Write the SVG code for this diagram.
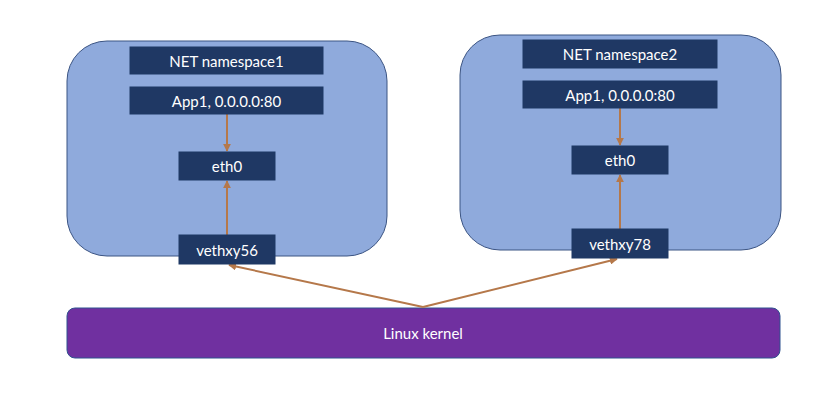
<svg xmlns="http://www.w3.org/2000/svg" width="839" height="404" viewBox="0 0 839 404">
<defs>
<style>
.ns{fill:#8FAADC;stroke:#3B5483;stroke-width:1}
.box{fill:#1F3864;stroke:#1F3864}
.t{font-family:Lato,"Open Sans",sans-serif;font-size:15px;fill:#FFFFFF;text-anchor:middle;dominant-baseline:central}
.c{stroke:#B5784A;stroke-width:2;fill:none;marker-end:url(#ah)}
</style>
<marker id="ah" viewBox="0 0 10 10" refX="9" refY="5" markerWidth="4" markerHeight="4" orient="auto">
<path d="M0,0 L10,5 L0,10 z" fill="#B5784A"/>
</marker>
</defs>
<rect width="839" height="404" fill="#FFFFFF"/>
<g id="ns1">
<rect class="ns" x="67" y="41" width="320" height="215" rx="40"/>
</g>
<g id="ns2">
<rect class="ns" x="460" y="35" width="321" height="215" rx="40"/>
</g>
<g id="kernel">
<rect x="67" y="308" width="713" height="50" rx="8" fill="#7030A0" stroke="#2F528F"/>
<text class="t" x="423" y="333">Linux kernel</text>
</g>
<g id="connectors">
<line class="c" x1="227" y1="114" x2="227" y2="151"/>
<line class="c" x1="227" y1="235" x2="227" y2="181"/>
<line class="c" x1="620" y1="108" x2="620" y2="145"/>
<line class="c" x1="620" y1="229" x2="620" y2="175"/>
<line class="c" x1="423" y1="307" x2="229" y2="265"/>
<line class="c" x1="423" y1="307" x2="617" y2="259"/>
</g>
<g id="n1-label">
<rect class="box" x="130" y="47" width="193" height="27"/>
<text class="t" x="226.5" y="60.5">NET namespace1</text>
</g>
<g id="n1-app">
<rect class="box" x="130" y="87" width="193" height="27"/>
<text class="t" x="226.5" y="100.5">App1, 0.0.0.0:80</text>
</g>
<g id="n1-eth0">
<rect class="box" x="179" y="152" width="96" height="28"/>
<text class="t" x="227" y="166">eth0</text>
</g>
<g id="n1-veth">
<rect class="box" x="179" y="235" width="96" height="29"/>
<text class="t" x="227" y="249.5">vethxy56</text>
</g>
<g id="n2-label">
<rect class="box" x="523" y="40" width="194" height="28"/>
<text class="t" x="620" y="54">NET namespace2</text>
</g>
<g id="n2-app">
<rect class="box" x="523" y="81" width="194" height="27"/>
<text class="t" x="620" y="94.5">App1, 0.0.0.0:80</text>
</g>
<g id="n2-eth0">
<rect class="box" x="572" y="146" width="96" height="28"/>
<text class="t" x="620" y="160">eth0</text>
</g>
<g id="n2-veth">
<rect class="box" x="572" y="229" width="96" height="29"/>
<text class="t" x="620" y="243.5">vethxy78</text>
</g>
</svg>
